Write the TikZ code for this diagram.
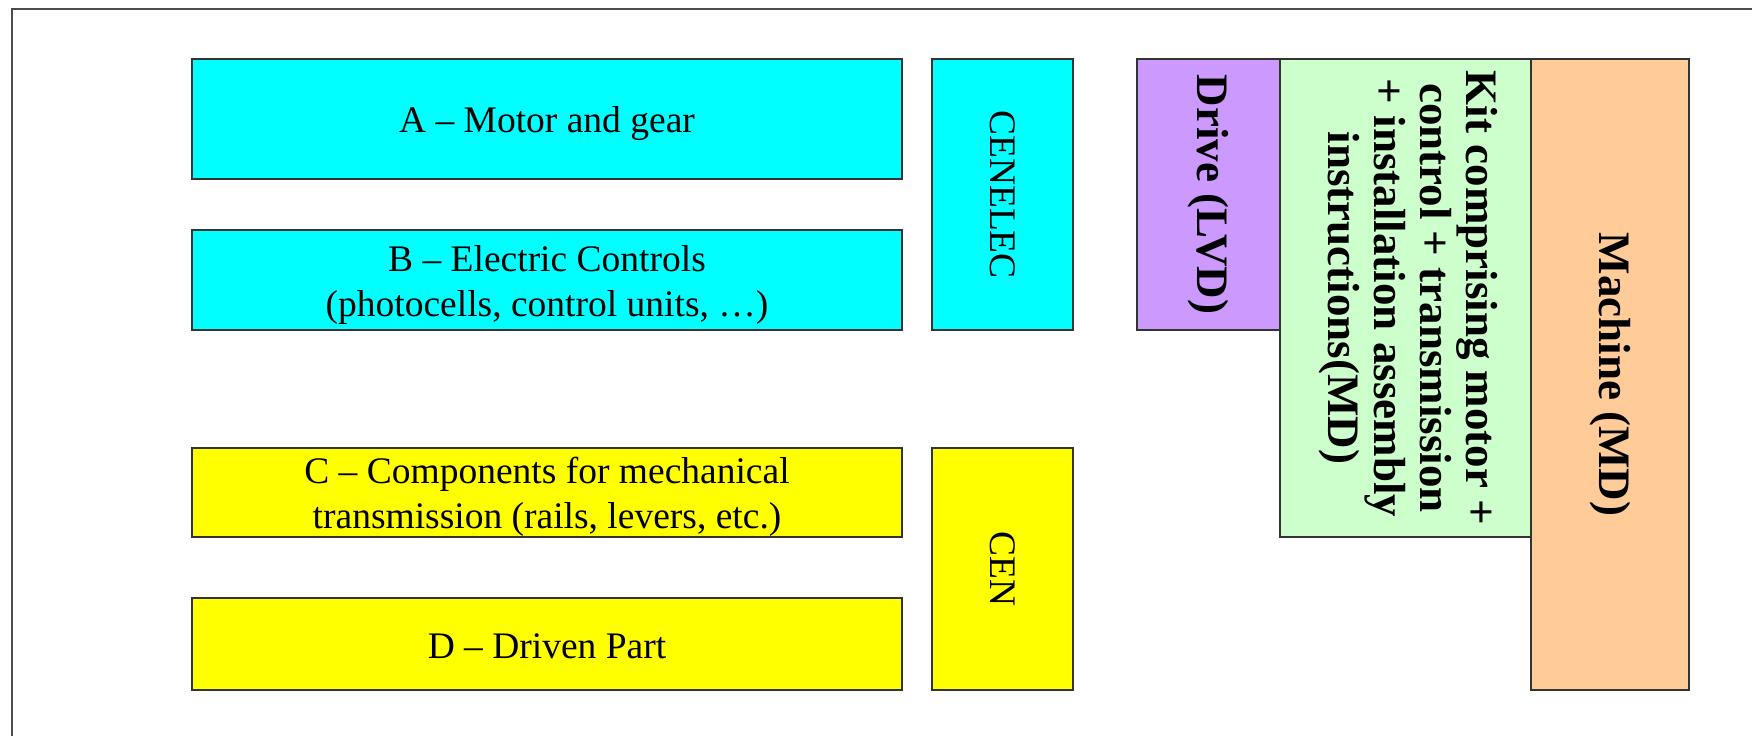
\documentclass[tikz,border=0pt]{standalone}
\usepackage{fontspec}
\setmainfont{Liberation Serif}
\definecolor{cyanbox}{HTML}{00FFFF}
\definecolor{yellowbox}{HTML}{FFFF00}
\definecolor{purplebox}{HTML}{CC99FF}
\definecolor{greenbox}{HTML}{CCFFCC}
\definecolor{orangebox}{HTML}{FFCC99}
\definecolor{edge}{HTML}{333333}
\begin{document}
\begin{tikzpicture}[x=1pt,y=-1pt,
  box/.style={draw=edge,line width=1.5pt,rectangle,inner sep=0pt,align=center,
    font=\fontsize{37.5}{45}\selectfont},
  htext/.style={align=center,yshift=-4.5pt,font=\fontsize{37.5}{45}\selectfont},
  vbox/.style={box,rotate=-90},
  bbox/.style={box,rotate=-90,font=\fontsize{45}{46}\selectfont\bfseries},
  frameline/.style={draw=black!70,line width=2pt}
]
\useasboundingbox (0,0) rectangle (1752,736);
\coordinate (f1) at (11.5,736);
\coordinate (f2) at (11.5,8.5);
\coordinate (f3) at (1752,8.5);
\draw[frameline] (f1) -- (f2) -- (f3);

\node[box,fill=cyanbox,minimum width=710pt,minimum height=120pt,
  label={[htext]center:A -- Motor and gear}] (A) at (547,119) {};
\node[box,fill=cyanbox,minimum width=710pt,minimum height=100pt,
  label={[htext]center:B -- Electric Controls\\(photocells, control units, \dots)}] (B) at (547,280) {};
\node[vbox,fill=cyanbox,minimum width=271pt,minimum height=141pt] (cenelec) at (1002.5,194.5) {CENELEC};
\node[box,fill=yellowbox,minimum width=710pt,minimum height=89pt,
  label={[htext]center:C -- Components for mechanical\\transmission (rails, levers, etc.)}] (C) at (547,492.5) {};
\node[box,fill=yellowbox,minimum width=710pt,minimum height=92pt,
  label={[htext,yshift=2pt]center:D -- Driven Part}] (D) at (547,644) {};
\node[vbox,fill=yellowbox,minimum width=242pt,minimum height=141pt] (cen) at (1002.5,569) {CEN};
\node[bbox,fill=purplebox,minimum width=271pt,minimum height=143pt] (drive) at (1208.5,194.5) {Drive (LVD)};
\node[bbox,fill=greenbox,minimum width=478pt,minimum height=251pt] (kit) at (1405.5,298) {\raisebox{-5pt}[0pt][0pt]{\begin{tabular}{@{}c@{}}Kit comprising motor +\\control + transmission\\+ installation assembly\\instructions(MD)\end{tabular}}};
\node[bbox,fill=orangebox,minimum width=631pt,minimum height=158pt] (machine) at (1610,374.5) {Machine (MD)};
\end{tikzpicture}
\end{document}
